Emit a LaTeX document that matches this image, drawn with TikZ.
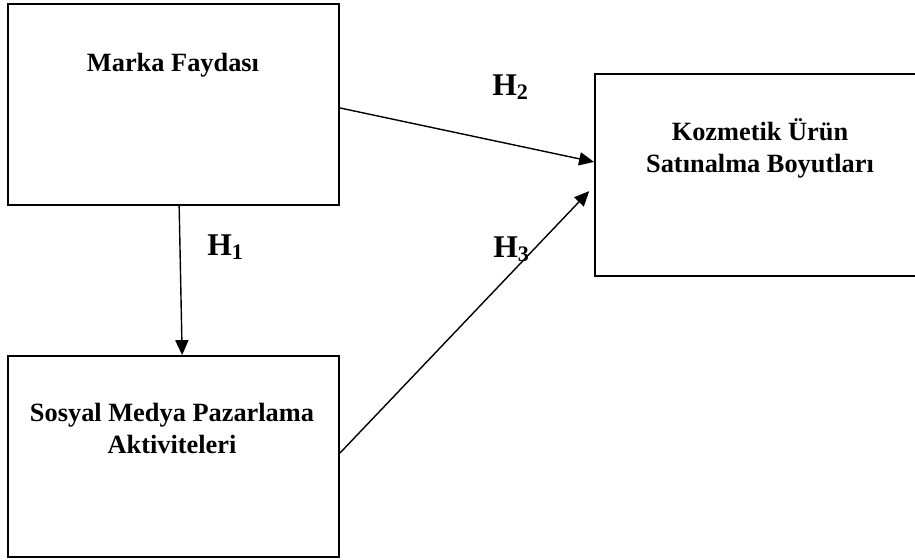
\documentclass[tikz,border=0pt]{standalone}
\usepackage{fontspec}
\setmainfont{Liberation Serif}
\usetikzlibrary{arrows.meta,calc}
\tikzset{
  kutu/.style={draw,line width=1.1pt,rectangle,inner sep=0pt,minimum width=6.62cm,minimum height=4.02cm},
  baslik/.style={font=\fontsize{15}{18.2}\selectfont\bfseries,align=center,anchor=base},
  hip/.style={font=\fontsize{18}{21}\selectfont\bfseries,anchor=base west,inner sep=0pt},
  ok/.style={-{Triangle[length=8.5pt,width=7.5pt]},line width=0.8pt}
}
\begin{document}
\begin{tikzpicture}[x=0.02cm,y=-0.02cm]
\useasboundingbox (0,0) rectangle (915,559);
  \node[kutu] (marka) at (173.5,104.5) {};
  \node[kutu] (sosyal) at (173.5,456.5) {};
  \node[kutu,minimum width=6.6cm,minimum height=4.04cm] (kozmetik) at (760,175) {};
  \node[baslik] (tmarka) at (173,71) {Marka Faydası};
  \node[baslik] (tsosyal) at (172,453) {Sosyal Medya Pazarlama\\Aktiviteleri};
  \node[baslik] (tkozmetik) at (760,172) {Kozmetik Ürün\\Satınalma Boyutları};
  \draw[ok] ($(marka.south west)!0.517!(marka.south east)$) -- ($(sosyal.north west)!0.526!(sosyal.north east)$);
  \draw[ok] ($(marka.north east)!0.517!(marka.south east)$) -- ($(kozmetik.north west)!0.436!(kozmetik.south west)$);
  \draw[ok,shorten >=4pt] ($(sosyal.north east)!0.483!(sosyal.south east)$) -- ($(kozmetik.north west)!0.554!(kozmetik.south west)$);
  \node[hip] (h1) at (207,255) {H\textsubscript{1}};
  \node[hip] (h2) at (492,95) {H\textsubscript{2}};
  \node[hip] (h3) at (493,257) {H\textsubscript{3}};
\end{tikzpicture}
\end{document}
